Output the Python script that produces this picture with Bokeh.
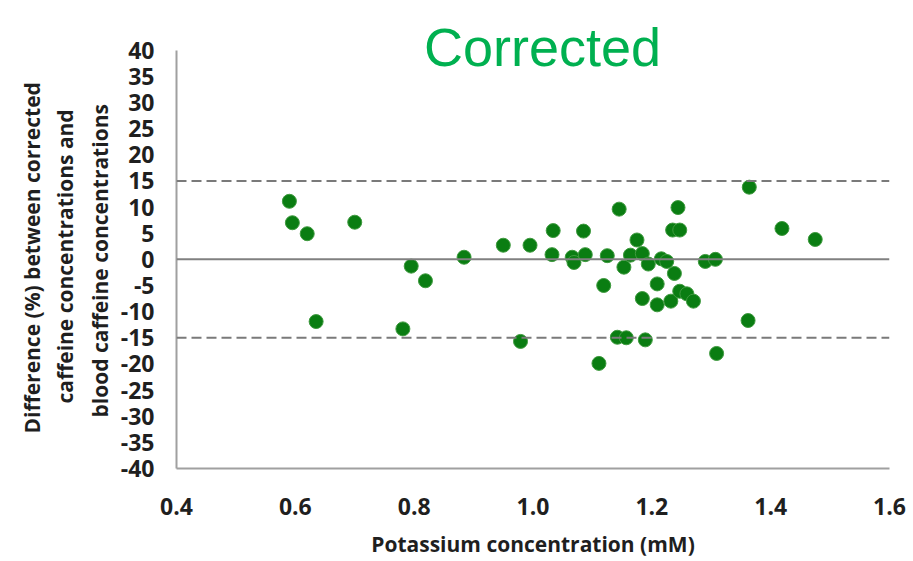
from bokeh.plotting import figure
from bokeh.models import Span, Label, FixedTicker, Title
from bokeh.embed import file_html
from bokeh.resources import INLINE

# Data
potassium_mM = [0.590, 0.595, 0.620, 0.635, 0.700, 0.781, 0.795, 0.819, 0.884, 0.950,
                0.979, 0.995, 1.032, 1.034, 1.066, 1.069, 1.085, 1.088, 1.111, 1.119,
                1.125, 1.142, 1.145, 1.153, 1.157, 1.164, 1.175, 1.184, 1.184, 1.189,
                1.194, 1.209, 1.209, 1.216, 1.225, 1.232, 1.235, 1.238, 1.244, 1.247,
                1.247, 1.259, 1.270, 1.290, 1.307, 1.309, 1.362, 1.364, 1.419, 1.475]
difference_pct = [11.1, 7.0, 4.9, -11.9, 7.1, -13.3, -1.3, -4.1, 0.4, 2.7,
                  -15.7, 2.7, 0.9, 5.5, 0.4, -0.6, 5.4, 0.9, -19.9, -5.0,
                  0.7, -14.9, 9.6, -1.5, -15.0, 0.8, 3.7, 1.1, -7.5, -15.4,
                  -0.9, -4.7, -8.7, 0.1, -0.4, -8.0, 5.6, -2.7, 9.9, 5.6,
                  -6.1, -6.6, -8.0, -0.4, 0.0, -18.0, -11.7, 13.8, 5.9, 3.8]

x_ticks = [0.4, 0.6, 0.8, 1.0, 1.2, 1.4, 1.6]
x_tick_labels = ["0.4", "0.6", "0.8", "1.0", "1.2", "1.4", "1.6"]
y_ticks = [40, 35, 30, 25, 20, 15, 10, 5, 0, -5, -10, -15, -20, -25, -30, -35, -40]
y_tick_labels = ["40", "35", "30", "25", "20", "15", "10", "5", "0", "-5", "-10",
                 "-15", "-20", "-25", "-30", "-35", "-40"]
y_axis_bounds = (-40, 40)
zero_line = 0
limit_lines = [15, -15]
title_text = "Corrected"
x_title = "Potassium concentration (mM)"
y_title_lines = ["Difference (%) between corrected",
                 "caffeine concentrations and",
                 "blood caffeine concentrations"]

# the frame reaches above the y axis so the title can sit inside it unclipped
p = figure(width=912, height=560, x_range=(0.4, 1.6), y_range=(-40, 49.5),
           output_backend="svg", toolbar_location=None,
           min_border_left=176, min_border_right=23, min_border_top=0, min_border_bottom=88)
p.outline_line_color = None
p.xgrid.visible = False
p.ygrid.visible = False
p.background_fill_color = "white"

font = "Open Sans"
label_color = "#1f1f1f"
axis_gray = "#a0a0a0"

for ax in (p.xaxis[0], p.yaxis[0]):
    ax.axis_line_color = axis_gray
    ax.axis_line_width = 2
    ax.major_tick_line_color = None
    ax.minor_tick_line_color = None
    ax.major_tick_out = 0
    ax.major_tick_in = 0
    ax.major_label_text_font = font
    ax.major_label_text_font_style = "bold"
    ax.major_label_text_font_size = "23px"
    ax.major_label_text_color = label_color

p.xaxis.ticker = FixedTicker(ticks=x_ticks)
p.xaxis.major_label_overrides = dict(zip(x_ticks, x_tick_labels))
p.xaxis.major_label_standoff = 29
p.xaxis.axis_label = x_title
p.xaxis.axis_label_standoff = 12
p.xaxis.axis_label_text_font = font
p.xaxis.axis_label_text_font_style = "bold"
p.xaxis.axis_label_text_font_size = "21px"
p.xaxis.axis_label_text_color = label_color

p.yaxis.ticker = FixedTicker(ticks=y_ticks)
p.yaxis.bounds = y_axis_bounds
p.yaxis.major_label_overrides = dict(zip(y_ticks, y_tick_labels))
p.yaxis.major_label_standoff = 22

# y axis title: three stacked lines (innermost first), each centred on the y axis
line_shifts = {0: 35, 1: 65, 2: 51}  # px from frame bottom to the start of each line
for idx in (2, 1, 0):
    p.add_layout(Title(text=y_title_lines[idx], align="left", offset=line_shifts[idx],
                       standoff=(7 if idx == 2 else 3),
                       text_font=font, text_font_style="bold",
                       text_font_size="21px", text_color=label_color), "left")

p.add_layout(Span(location=zero_line, dimension="width", line_color="#808080", line_width=2))
for lim in limit_lines:
    p.add_layout(Span(location=lim, dimension="width", line_color="#7a7a7a",
                      line_width=2, line_dash="10 5"))

p.scatter(potassium_mM, difference_pct, size=14, fill_color="#0a7d12",
          line_color="#3f9a3f", line_width=1)

p.add_layout(Label(x=1.016, y=40, y_offset=3, text=title_text, text_align="center",
                   text_baseline="alphabetic", text_font="Liberation Sans",
                   text_font_size="54px", text_color="#00b050"))

open("out.html", "w").write(file_html(p, INLINE))
